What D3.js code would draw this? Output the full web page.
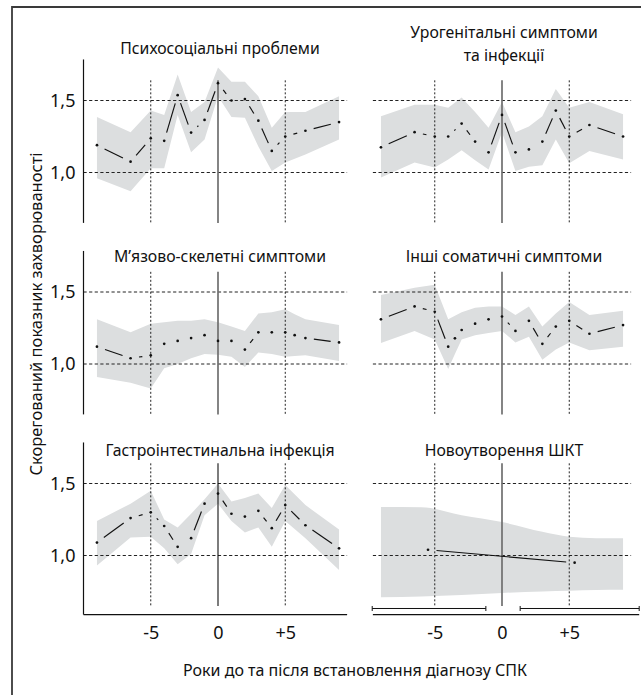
<!DOCTYPE html>
<html>
<head>
<meta charset="utf-8">
<script src="https://cdn.jsdelivr.net/npm/d3@7"></script>
<style>
  body { margin: 0; background: #fff; }
  svg { display: block; }
  text { font-family: "Noto Sans", sans-serif; fill: #111; }
</style>
</head>
<body>
<svg id="chart"></svg>
<script>
const width = 641;
const height = 695;

// years used by most panels (outer points are grouped years)
const years = [-9, -6.5, -5, -4, -3, -2, -1, 0, 1, 2, 3, 4, 5, 6.5, 9];

const psychoRate = [1.19, 1.075, 1.237, 1.22, 1.537, 1.277, 1.365, 1.62, 1.5, 1.51, 1.36, 1.15, 1.25, 1.29, 1.35];
const psychoLow = [0.96, 0.87, 1.03, 1.03, 1.4, 1.14, 1.23, 1.53, 1.385, 1.38, 1.18, 1.01, 1.07, 1.125, 1.23];
const psychoHigh = [1.385, 1.28, 1.43, 1.4, 1.68, 1.42, 1.49, 1.73, 1.63, 1.63, 1.53, 1.31, 1.42, 1.42, 1.53];

const uroRate = [1.175, 1.28, 1.25, 1.25, 1.34, 1.215, 1.14, 1.4, 1.14, 1.16, 1.215, 1.43, 1.25, 1.33, 1.25];
const uroLow = [0.965, 1.07, 1.035, 1.09, 1.155, 1.085, 1.02, 1.28, 1.01, 1.04, 1.05, 1.23, 1.065, 1.15, 1.09];
const uroHigh = [1.39, 1.47, 1.47, 1.45, 1.52, 1.42, 1.31, 1.49, 1.28, 1.32, 1.39, 1.58, 1.45, 1.49, 1.405];

const musculoYears = [-9, -6.5, -5, -4, -3, -2, -1, 0, 1, 2, 3, 4, 5, 5.7, 6.5, 9];
const musculoRate = [1.12, 1.04, 1.06, 1.14, 1.16, 1.18, 1.2, 1.16, 1.16, 1.1, 1.22, 1.22, 1.22, 1.2, 1.18, 1.15];
const musculoLow = [0.91, 0.87, 0.83, 0.97, 1.0, 1.04, 1.07, 1.065, 1.05, 0.98, 1.08, 1.07, 1.05, 1.055, 1.06, 1.02];
const musculoHigh = [1.31, 1.22, 1.28, 1.29, 1.3, 1.3, 1.31, 1.29, 1.26, 1.23, 1.35, 1.36, 1.38, 1.345, 1.31, 1.27];

const somaticYears = [-9, -6.5, -5, -4, -3.5, -3, -2, -1, 0, 1, 2, 3, 4, 5, 6.5, 9];
const somaticRate = [1.31, 1.4, 1.363, 1.12, 1.178, 1.236, 1.28, 1.31, 1.33, 1.23, 1.3, 1.14, 1.26, 1.3, 1.21, 1.27];
const somaticLow = [1.145, 1.23, 1.17, 0.965, 1.07, 1.17, 1.2, 1.215, 1.23, 1.15, 1.19, 1.03, 1.1, 1.15, 1.095, 1.12];
const somaticHigh = [1.48, 1.53, 1.55, 1.31, 1.335, 1.36, 1.39, 1.4, 1.4, 1.34, 1.4, 1.26, 1.35, 1.43, 1.34, 1.37];

const gastroRate = [1.09, 1.26, 1.3, 1.205, 1.06, 1.12, 1.36, 1.43, 1.29, 1.27, 1.31, 1.19, 1.35, 1.21, 1.05];
const gastroLow = [0.93, 1.125, 1.13, 1.05, 0.94, 1.01, 1.28, 1.36, 1.24, 1.16, 1.195, 1.06, 1.24, 1.12, 0.9];
const gastroHigh = [1.24, 1.36, 1.45, 1.25, 1.195, 1.29, 1.39, 1.5, 1.375, 1.4, 1.43, 1.33, 1.49, 1.35, 1.18];

const neoYears = [-5.5, 5.4];
const neoRate = [1.04, 0.95];
const neoBandYears = [-9, -6, -3, 0, 3, 5, 7, 9];
const neoLow = [0.71, 0.715, 0.725, 0.74, 0.75, 0.755, 0.76, 0.762];
const neoHigh = [1.337, 1.335, 1.28, 1.232, 1.165, 1.13, 1.12, 1.12];

const yTicks = [1.0, 1.5];
const xTicks = [-5, 0, 5];
const periodBrackets = [[-9.65, -1.2], [1.35, 10.2]];

const panels = [
  { title: ["Психосоціальні проблеми"], col: 0, row: 0, xs: years, rate: psychoRate, bx: years, low: psychoLow, high: psychoHigh },
  { title: ["Урогенітальні симптоми", "та інфекції"], col: 1, row: 0, xs: years, rate: uroRate, bx: years, low: uroLow, high: uroHigh },
  { title: ["М’язово-скелетні симптоми"], col: 0, row: 1, xs: musculoYears, rate: musculoRate, bx: musculoYears, low: musculoLow, high: musculoHigh },
  { title: ["Інші соматичні симптоми"], col: 1, row: 1, xs: somaticYears, rate: somaticRate, bx: somaticYears, low: somaticLow, high: somaticHigh },
  { title: ["Гастроінтестинальна інфекція"], col: 0, row: 2, xs: years, rate: gastroRate, bx: years, low: gastroLow, high: gastroHigh },
  { title: ["Новоутворення ШКТ"], col: 1, row: 2, xs: neoYears, rate: neoRate, bx: neoBandYears, low: neoLow, high: neoHigh, smooth: true }
];

// layout
const colRange = [[83.5, 352.5], [367.5, 636.5]];
const rowBase = [172.5, 364, 555.5]; // pixel y of value 1.0
const unitPx = 144;
const titleBase = [[54], [38, 60.5]];
const rowTitleY = [0, 262 - 54, 455.5 - 54];
const gap = 8.5;
const bandColor = "#dcdedf";

const svg = d3.select("#chart").attr("width", width).attr("height", height);

// frame
svg.append("path")
  .attr("d", `M12,${height} V7 H${width}`)
  .attr("fill", "none")
  .attr("stroke", "#3a3a3a")
  .attr("stroke-width", 1.8);

const fmtY = (d) => d3.format(".1f")(d).replace(".", ",");
const fmtX = (d) => (d > 0 ? "+" + d : String(d));

panels.forEach((p) => {
  const x = d3.scaleLinear().domain([-10, 10]).range(colRange[p.col]);
  const base = rowBase[p.row];
  const y = d3.scaleLinear().domain([1, 1.5]).range([base, base - unitPx / 2]);
  const g = svg.append("g");

  // confidence band
  const area = d3.area()
    .x((d) => x(d[0]))
    .y0((d) => y(d[1]))
    .y1((d) => y(d[2]))
    .curve(p.smooth ? d3.curveMonotoneX : d3.curveLinear);
  g.append("path")
    .datum(p.bx.map((v, i) => [v, p.low[i], p.high[i]]))
    .attr("d", area)
    .attr("fill", bandColor);

  // horizontal dashed grid
  const gx0 = p.col === 0 ? x(-10) : x(-9.6);
  g.selectAll(".hgrid")
    .data(yTicks)
    .join("line")
    .attr("x1", gx0)
    .attr("x2", x(9.6))
    .attr("y1", (d) => y(d))
    .attr("y2", (d) => y(d))
    .attr("stroke", "#222")
    .attr("stroke-width", 1)
    .attr("stroke-dasharray", "3.2,2.4");

  // vertical dotted grid at -5 / +5
  g.selectAll(".vgrid")
    .data([-5, 5])
    .join("line")
    .attr("x1", (d) => x(d))
    .attr("x2", (d) => x(d))
    .attr("y1", y(1.64))
    .attr("y2", y(0.65))
    .attr("stroke", "#222")
    .attr("stroke-width", 1)
    .attr("stroke-dasharray", "2,2");

  // diagnosis line
  const zeroBlack = p.col === 0 && p.row === 2;
  g.append("line")
    .attr("x1", x(0))
    .attr("x2", x(0))
    .attr("y1", y(1.64))
    .attr("y2", y(0.65))
    .attr("stroke", zeroBlack ? "#111" : "#6f6f6f")
    .attr("stroke-width", zeroBlack ? 1.1 : 1.7);

  // gapped segments between points
  const pts = p.xs.map((v, i) => [x(v), y(p.rate[i])]);
  const segs = [];
  for (let i = 0; i < pts.length - 1; i++) {
    const [x1, y1] = pts[i];
    const [x2, y2] = pts[i + 1];
    const len = Math.hypot(x2 - x1, y2 - y1);
    if (len <= 2 * gap + 1) continue;
    const ux = (x2 - x1) / len;
    const uy = (y2 - y1) / len;
    segs.push([x1 + ux * gap, y1 + uy * gap, x2 - ux * gap, y2 - uy * gap]);
  }
  g.selectAll(".seg")
    .data(segs)
    .join("line")
    .attr("x1", (d) => d[0])
    .attr("y1", (d) => d[1])
    .attr("x2", (d) => d[2])
    .attr("y2", (d) => d[3])
    .attr("stroke", "#111")
    .attr("stroke-width", 1.15);

  g.selectAll(".pt")
    .data(pts)
    .join("circle")
    .attr("cx", (d) => d[0])
    .attr("cy", (d) => d[1])
    .attr("r", 1.35)
    .attr("fill", "#111");

  // left axis with tick labels
  if (p.col === 0) {
    const bottomVal = p.row === 2 ? 0.59 : 0.65;
    g.append("line")
      .attr("x1", x(-10))
      .attr("x2", x(-10))
      .attr("y1", y(1.785))
      .attr("y2", y(bottomVal))
      .attr("stroke", "#111")
      .attr("stroke-width", 1.2);
    const ax = g.append("g")
      .attr("transform", `translate(${x(-10)},0)`)
      .call(d3.axisLeft(y).tickValues(yTicks).tickSize(0).tickPadding(8).tickFormat(fmtY));
    ax.select(".domain").remove();
    ax.selectAll("text")
      .style("font-family", '"Noto Sans", sans-serif')
      .style("font-size", "18px")
      .attr("fill", "#111");
  }

  // bottom axis
  if (p.row === 2) {
    const axisY = y(0.59);
    if (p.col === 0) {
      g.append("line")
        .attr("x1", x(-10)).attr("x2", x(9.6))
        .attr("y1", axisY).attr("y2", axisY)
        .attr("stroke", "#111").attr("stroke-width", 1.2);
    } else {
      g.append("line")
        .attr("x1", x(-9.6)).attr("x2", x(10.2))
        .attr("y1", axisY).attr("y2", axisY)
        .attr("stroke", "#111").attr("stroke-width", 1.2);
      const by = y(0.632);
      periodBrackets.forEach(([a, b]) => {
        g.append("line")
          .attr("x1", x(a)).attr("x2", x(b))
          .attr("y1", by).attr("y2", by)
          .attr("stroke", "#111").attr("stroke-width", 1);
        [a, b].forEach((e) => {
          g.append("line")
            .attr("x1", x(e)).attr("x2", x(e))
            .attr("y1", by - 2.5).attr("y2", by + 2.5)
            .attr("stroke", "#111").attr("stroke-width", 1);
        });
      });
    }
    const bx = g.append("g")
      .attr("transform", `translate(0,${axisY})`)
      .call(d3.axisBottom(x).tickValues(xTicks).tickSize(0).tickPadding(12).tickFormat(fmtX));
    bx.select(".domain").remove();
    bx.selectAll("text")
      .style("font-family", '"Noto Sans", sans-serif')
      .style("font-size", "18px")
      .attr("fill", "#111");
  }

  // title
  const lines = titleBase[p.title.length - 1];
  p.title.forEach((t, i) => {
    g.append("text")
      .attr("x", x(0) + 2)
      .attr("y", lines[i] + rowTitleY[p.row])
      .attr("text-anchor", "middle")
      .style("font-size", "15.8px")
      .text(t);
  });
});

// axis titles
svg.append("text")
  .attr("x", 355)
  .attr("y", 676)
  .attr("text-anchor", "middle")
  .style("font-size", "16px")
  .text("Роки до та після встановлення діагнозу СПК");

svg.append("text")
  .attr("transform", "translate(42,314) rotate(-90)")
  .attr("text-anchor", "middle")
  .style("font-size", "16.5px")
  .text("Скорегований показник захворюваності");
</script>
</body>
</html>
